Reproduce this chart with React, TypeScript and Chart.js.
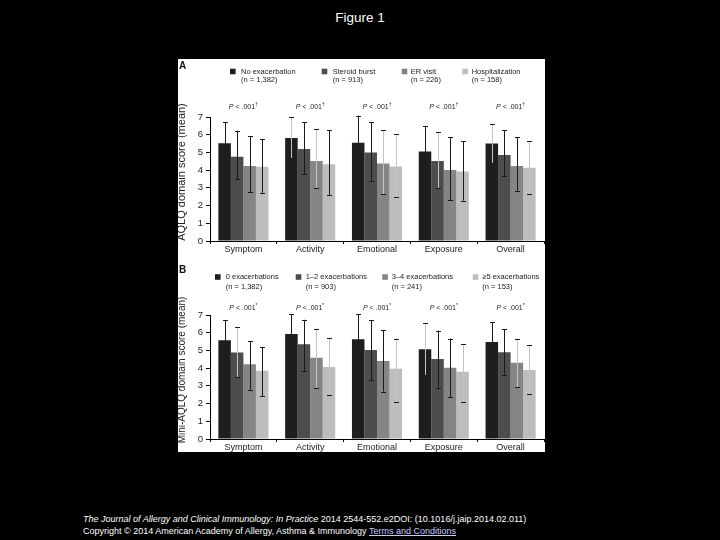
import React, { useEffect, useRef } from "react";
import { Chart, registerables } from "chart.js";

Chart.register(...registerables);

const FONT = '"Liberation Sans", Arial, Helvetica, sans-serif';
Chart.defaults.font.family = FONT;

// ---------- data ----------
const categories = ["Symptom", "Activity", "Emotional", "Exposure", "Overall"];

// Panel A (AQLQ)
const aLabels = ["No exacerbation", "Steroid burst", "ER visit", "Hospitalization"];
const aCounts = ["(n = 1,382)", "(n = 913)", "(n = 226)", "(n = 158)"];
const aNone = [5.52, 5.82, 5.55, 5.05, 5.5];
const aNoneHi = [6.7, 6.98, 7.08, 6.5, 6.6];
const aNoneLo = [4.38, 4.66, 4.1, 3.6, 4.4];
const aSteroid = [4.76, 5.2, 4.99, 4.52, 4.86];
const aSteroidHi = [6.23, 6.7, 6.7, 6.16, 6.27];
const aSteroidLo = [3.48, 3.77, 3.39, 2.98, 3.67];
const aER = [4.24, 4.52, 4.37, 4.01, 4.24];
const aERHi = [5.9, 6.3, 6.27, 5.86, 5.86];
const aERLo = [2.77, 2.98, 2.65, 2.32, 2.84];
const aHosp = [4.19, 4.33, 4.2, 3.92, 4.14];
const aHospHi = [5.75, 6.25, 6.05, 5.63, 5.62];
const aHospLo = [2.72, 2.6, 2.47, 2.28, 2.64];
const aPText = ["< .001", "< .001", "< .001", "< .001", "< .001"];
const aPMark = "†";

// Panel B (Mini-AQLQ)
const bLabels = ["0 exacerbations", "1–2 exacerbations", "3–4 exacerbations", "≥5 exacerbations"];
const bCounts = ["(n = 1,382)", "(n = 903)", "(n = 241)", "(n = 153)"];
const bZero = [5.57, 5.93, 5.63, 5.07, 5.48];
const bZeroHi = [6.7, 7.04, 7.04, 6.53, 6.6];
const bZeroLo = [4.37, 4.62, 4.13, 3.6, 4.35];
const bOneTwo = [4.88, 5.35, 5.03, 4.52, 4.9];
const bOneTwoHi = [6.3, 6.73, 6.72, 6.12, 6.21];
const bOneTwoLo = [3.5, 3.85, 3.34, 2.9, 3.62];
const bThreeFour = [4.22, 4.58, 4.41, 4.02, 4.31];
const bThreeFourHi = [5.53, 6.23, 6.16, 5.67, 5.67];
const bThreeFourLo = [2.78, 2.9, 2.68, 2.36, 2.92];
const bFivePlus = [3.85, 4.07, 3.96, 3.79, 3.9];
const bFivePlusHi = [5.2, 5.7, 5.67, 5.37, 5.31];
const bFivePlusLo = [2.42, 2.48, 2.1, 2.1, 2.53];
const bPText = ["< .001", "< .001", "< .001", "< .001", "< .001"];
const bPMark = "*";

const yTicks = [0, 1, 2, 3, 4, 5, 6, 7];

// ---------- styles ----------
const BAR_COLORS = ["#1e1e1e", "#4d4d4d", "#858585", "#bdbdbd"];
const D = "#1a1a1a";
const L = "#c4c4c4";
const aErrColors = [
  [D, L, D, D, L],
  [D, D, D, L, D],
  [D, L, L, D, D],
  [D, D, L, D, L],
];
const bErrColors = [
  [D, D, D, L, D],
  [L, D, D, D, D],
  [D, L, D, D, L],
  [D, L, L, L, L],
];

type PanelCfg = {
  letter: string;
  yTitle: string;
  yTitleSize: number;
  labels: string[];
  counts: string[];
  series: number[][];
  hi: number[][];
  lo: number[][];
  errColors: string[][];
  pText: string[];
  pMark: string;
  width: number;
  height: number;
  topPad: number;
  xHeight: number;
  sqX: number[];
  txtX: number[];
  legY1: number;
  legY2: number;
  pY: number;
  yTitleX: number;
  yTitleY: number;
  letterY: number;
};

const panelA: PanelCfg = {
  letter: "A",
  yTitle: "AQLQ domain score (mean)",
  yTitleSize: 11,
  labels: aLabels,
  counts: aCounts,
  series: [aNone, aSteroid, aER, aHosp],
  hi: [aNoneHi, aSteroidHi, aERHi, aHospHi],
  lo: [aNoneLo, aSteroidLo, aERLo, aHospLo],
  errColors: aErrColors,
  pText: aPText,
  pMark: aPMark,
  width: 367,
  height: 196,
  topPad: 58,
  xHeight: 14,
  sqX: [52, 143.7, 223.7, 284.3],
  txtX: [63, 154.7, 232.7, 293.7],
  legY1: 12.5,
  legY2: 21,
  pY: 48,
  yTitleX: 4,
  yTitleY: 113,
  letterY: 2,
};

const panelB: PanelCfg = {
  letter: "B",
  yTitle: "Mini-AQLQ domain score (mean)",
  yTitleSize: 10,
  labels: bLabels,
  counts: bCounts,
  series: [bZero, bOneTwo, bThreeFour, bFivePlus],
  hi: [bZeroHi, bOneTwoHi, bThreeFourHi, bFivePlusHi],
  lo: [bZeroLo, bOneTwoLo, bThreeFourLo, bFivePlusLo],
  errColors: bErrColors,
  pText: bPText,
  pMark: bPMark,
  width: 367,
  height: 197,
  topPad: 60,
  xHeight: 13,
  sqX: [37, 117.7, 204.3, 294.7],
  txtX: [47.7, 127.7, 213.7, 304.3],
  legY1: 22,
  legY2: 32,
  pY: 53,
  yTitleX: 4,
  yTitleY: 115,
  letterY: 10.5,
};

function makeChart(canvas: HTMLCanvasElement, cfg: PanelCfg) {
  const overlay = {
    id: "overlay" + cfg.letter,
    afterDatasetsDraw(chart: any) {
      const ctx = chart.ctx;
      const ys = chart.scales.y;
      ctx.save();
      chart.data.datasets.forEach((_ds: any, i: number) => {
        const meta = chart.getDatasetMeta(i);
        meta.data.forEach((el: any, j: number) => {
          const x = Math.round(el.x) + 0.5;
          const yt = ys.getPixelForValue(cfg.hi[i][j]);
          const yb = ys.getPixelForValue(cfg.lo[i][j]);
          ctx.lineWidth = 1;
          ctx.strokeStyle = cfg.errColors[i][j];
          ctx.beginPath();
          ctx.moveTo(x, yt);
          ctx.lineTo(x, yb);
          ctx.stroke();
          ctx.strokeStyle = D;
          ctx.beginPath();
          ctx.moveTo(x - 2.5, Math.round(yt) + 0.5);
          ctx.lineTo(x + 2.5, Math.round(yt) + 0.5);
          ctx.moveTo(x - 2.5, Math.round(yb) + 0.5);
          ctx.lineTo(x + 2.5, Math.round(yb) + 0.5);
          ctx.stroke();
        });
      });
      ctx.restore();
    },
    afterDraw(chart: any) {
      const ctx = chart.ctx;
      const xs = chart.scales.x;
      ctx.save();
      // panel letter
      ctx.fillStyle = "#111";
      ctx.font = `bold 10px ${FONT}`;
      ctx.textAlign = "left";
      ctx.textBaseline = "top";
      ctx.fillText(cfg.letter, 1, cfg.letterY);
      // legend
      ctx.textBaseline = "middle";
      ctx.font = `7.5px ${FONT}`;
      cfg.labels.forEach((lab, i) => {
        ctx.fillStyle = BAR_COLORS[i];
        ctx.fillRect(cfg.sqX[i], cfg.legY1 - 2.8, 5.6, 5.6);
        ctx.fillStyle = "#222";
        ctx.fillText(lab, cfg.txtX[i], cfg.legY1);
        ctx.fillText(cfg.counts[i], cfg.txtX[i], cfg.legY2);
      });
      // p-values
      categories.forEach((_c, k) => {
        const cx = xs.getPixelForValue(k);
        ctx.font = `italic 7px ${FONT}`;
        const wP = ctx.measureText("P ").width;
        ctx.font = `7px ${FONT}`;
        const wT = ctx.measureText(cfg.pText[k]).width;
        ctx.font = `5px ${FONT}`;
        const wM = ctx.measureText(cfg.pMark).width;
        let x0 = cx - (wP + wT + wM) / 2;
        ctx.fillStyle = "#222";
        ctx.font = `italic 7px ${FONT}`;
        ctx.fillText("P ", x0, cfg.pY);
        x0 += wP;
        ctx.font = `7px ${FONT}`;
        ctx.fillText(cfg.pText[k], x0, cfg.pY);
        x0 += wT;
        ctx.font = `5px ${FONT}`;
        ctx.fillText(cfg.pMark, x0, cfg.pY - 2);
      });
      // y title
      ctx.translate(cfg.yTitleX, cfg.yTitleY);
      ctx.rotate(-Math.PI / 2);
      ctx.textAlign = "center";
      ctx.textBaseline = "middle";
      ctx.font = `${cfg.yTitleSize}px ${FONT}`;
      ctx.fillStyle = "#222";
      ctx.fillText(cfg.yTitle, 0, 0);
      ctx.restore();
    },
  };

  return new Chart(canvas, {
    type: "bar",
    data: {
      labels: categories,
      datasets: cfg.series.map((s, i) => ({
        label: cfg.labels[i],
        data: s,
        backgroundColor: BAR_COLORS[i],
        borderWidth: 0,
        categoryPercentage: 0.75,
        barPercentage: 1.0,
      })),
    },
    options: {
      responsive: false,
      maintainAspectRatio: false,
      animation: false,
      events: [],
      layout: { padding: { left: 0, right: 1, top: cfg.topPad, bottom: 0 } },
      plugins: {
        legend: { display: false },
        tooltip: { enabled: false },
        title: { display: false },
      },
      scales: {
        x: {
          offset: true,
          grid: {
            display: true,
            drawOnChartArea: false,
            drawTicks: true,
            tickLength: 3,
            color: "#000",
            offset: true,
          },
          border: { display: true, color: "#000", width: 1 },
          ticks: {
            color: "#222",
            font: { size: 9, family: FONT },
            padding: 0,
            maxRotation: 0,
            autoSkip: false,
          },
          afterFit: (s: any) => {
            s.height = cfg.xHeight;
          },
        },
        y: {
          min: yTicks[0],
          max: yTicks[yTicks.length - 1],
          afterBuildTicks: (s: any) => {
            s.ticks = yTicks.map((v) => ({ value: v }));
          },
          grid: {
            display: true,
            drawOnChartArea: false,
            drawTicks: true,
            tickLength: 4,
            color: "#000",
          },
          border: { display: true, color: "#000", width: 1 },
          ticks: {
            color: "#222",
            font: { size: 9.5, family: FONT },
            padding: 3,
          },
          afterFit: (s: any) => {
            s.width = 32;
          },
        },
      },
    },
    plugins: [overlay],
  });
}

function Panel({ cfg, top }: { cfg: PanelCfg; top: number }) {
  const ref = useRef<HTMLCanvasElement | null>(null);
  useEffect(() => {
    if (!ref.current) return;
    const chart = makeChart(ref.current, cfg);
    return () => chart.destroy();
  }, [cfg]);
  return (
    <canvas
      ref={ref}
      width={cfg.width}
      height={cfg.height}
      style={{
        position: "absolute",
        left: 0,
        top,
        width: cfg.width,
        height: cfg.height,
      }}
    />
  );
}

export default function App() {
  return (
    <div
      style={{
        position: "fixed",
        left: 0,
        top: 0,
        width: 720,
        height: 540,
        background: "#000",
        fontFamily: FONT,
        overflow: "hidden",
      }}
    >
      <div
        style={{
          position: "absolute",
          top: 9,
          left: 0,
          width: 720,
          textAlign: "center",
          color: "#fff",
          fontSize: 13.5,
          lineHeight: "18px",
        }}
      >
        Figure 1
      </div>
      <div
        style={{
          position: "absolute",
          left: 178,
          top: 59,
          width: 367,
          height: 393,
          background: "#fff",
        }}
      >
        <Panel cfg={panelA} top={0} />
        <Panel cfg={panelB} top={196} />
      </div>
      <div
        style={{
          position: "absolute",
          left: 83,
          top: 513,
          color: "#fff",
          fontSize: 9,
          lineHeight: "12px",
          whiteSpace: "nowrap",
        }}
      >
        <div>
          <i>The Journal of Allergy and Clinical Immunology: In Practice</i> 2014 2544-552.e2DOI: (10.1016/j.jaip.2014.02.011)
        </div>
        <div>
          Copyright © 2014 American Academy of Allergy, Asthma &amp; Immunology{" "}
          <span style={{ color: "#c8c8ff", textDecoration: "underline" }}>Terms and Conditions</span>
        </div>
      </div>
    </div>
  );
}
